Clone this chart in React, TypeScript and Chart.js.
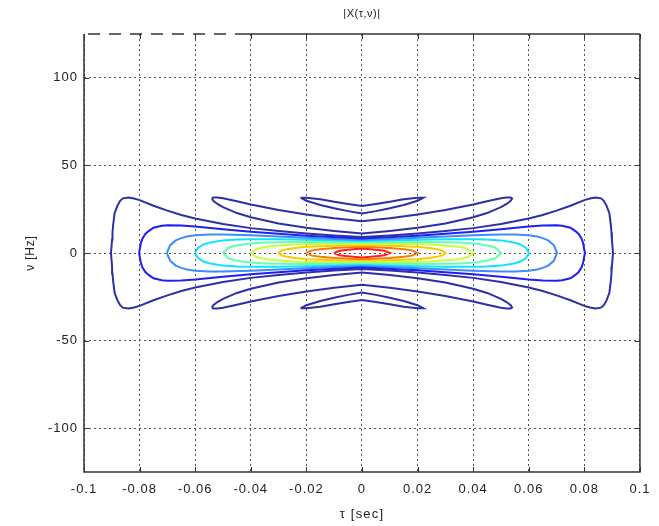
import React, { useEffect, useRef } from 'react';
import { Chart, registerables } from 'chart.js';

Chart.register(...registerables);

// ---- axes ----
const X_MIN = -0.1;
const X_MAX = 0.1;
const Y_MIN = -125;
const Y_MAX = 125;
const X_TICKS = [-0.1, -0.08, -0.06, -0.04, -0.02, 0, 0.02, 0.04, 0.06, 0.08, 0.1];
const X_TICK_LABELS = ['-0.1', '-0.08', '-0.06', '-0.04', '-0.02', '0', '0.02', '0.04', '0.06', '0.08', '0.1'];
const Y_TICKS = [-100, -50, 0, 50, 100];
const Y_TICK_LABELS = ['-100', '-50', '0', '50', '100'];
const TITLE = '|X(\u03C4,\u03BD)|';
const X_LABEL = '\u03C4 [sec]';
const Y_LABEL = '\u03BD [Hz]';
const TOP_DASH_END = -0.042;

// ---- contour levels (|X| normalised) ----
const LEVELS = [0.1, 0.2, 0.3, 0.4, 0.5, 0.6, 0.7, 0.8, 0.9];
const LEVEL_COLORS = ['#2e2ea6', '#1e1ef5', '#3c8cff', '#14e1ff', '#64ffb4', '#c8ff3c', '#ffc800', '#ff7800', '#ff1e1e'];

// Main lobe contours: upper-left quadrant [tau (s), nu (Hz)], from the nu=0 crossing to tau=0
const LOBE_L1 = [[-0.0903, 0], [-0.0899, 7.7], [-0.08975, 11.7], [-0.0895, 16.2], [-0.089, 22.7], [-0.088, 26.9], [-0.087, 29.8], [-0.086, 31.2], [-0.084, 31.7], [-0.082, 31.1], [-0.08, 30.2], [-0.075, 27.0], [-0.07, 24.2], [-0.065, 21.7], [-0.06, 19.7], [-0.05, 16.5], [-0.04, 14.2], [-0.03, 12.5], [-0.02, 11.1], [-0.01, 10.0], [0, 9.1]];
const LOBE_L2 = [[-0.0802, 0], [-0.0795, 5.9], [-0.079, 8.1], [-0.078, 10.7], [-0.077, 12.2], [-0.075, 14.4], [-0.072, 15.6], [-0.07, 15.8], [-0.065, 15.7], [-0.06, 15.1], [-0.05, 13.5], [-0.04, 12.1], [-0.02, 9.9], [0, 8.3]];
const LOBE_L3 = [[-0.0702, 0], [-0.069, 4.5], [-0.067, 7.2], [-0.065, 8.5], [-0.063, 9.4], [-0.06, 10.1], [-0.055, 10.6], [-0.05, 10.5], [-0.04, 10.1], [-0.03, 9.35], [-0.02, 8.7], [-0.01, 8.06], [0, 7.5]];
const LOBE_L4 = [[-0.0601, 0], [-0.059, 2.9], [-0.057, 4.9], [-0.055, 5.8], [-0.053, 6.45], [-0.05, 7.2], [-0.045, 7.7], [-0.04, 7.9], [-0.03, 7.8], [-0.02, 7.5], [-0.01, 7.15], [0, 6.8]];
const LOBE_L5 = [[-0.0501, 0], [-0.048, 3.0], [-0.046, 4.0], [-0.043, 4.8], [-0.04, 5.4], [-0.035, 6.0], [-0.03, 6.2], [-0.025, 6.3], [-0.02, 6.3], [-0.01, 6.2], [0, 6.0]];
const LOBE_L6 = [[-0.0401, 0], [-0.038, 2.3], [-0.036, 3.1], [-0.033, 3.8], [-0.03, 4.2], [-0.025, 4.8], [-0.02, 5.1], [-0.015, 5.2], [-0.01, 5.3], [0, 5.3]];
const LOBE_L7 = [[-0.0301, 0], [-0.029, 1.3], [-0.027, 2.2], [-0.024, 2.9], [-0.02, 3.5], [-0.015, 3.9], [-0.01, 4.2], [-0.005, 4.4], [0, 4.5]];
const LOBE_L8 = [[-0.0201, 0], [-0.018, 1.5], [-0.015, 2.2], [-0.01, 2.9], [-0.005, 3.3], [0, 3.6]];
const LOBE_L9 = [[-0.0101, 0], [-0.008, 1.3], [-0.006, 1.7], [-0.003, 2.2], [0, 2.5]];
const MAIN_LOBES = [LOBE_L1, LOBE_L2, LOBE_L3, LOBE_L4, LOBE_L5, LOBE_L6, LOBE_L7, LOBE_L8, LOBE_L9];

// Doppler sidelobes (level 0.1): left half, from tip to tau=0
const SIDE1_TAU = [-0.054, -0.0535, -0.052, -0.05, -0.045, -0.04, -0.03, -0.02, -0.01, 0];
const SIDE1_UPPER = [31.1, 31.7, 31.7, 31.2, 29.5, 27.7, 24.55, 22.0, 19.8, 18.1];
const SIDE1_LOWER = [31.1, 29.8, 28.0, 26.2, 22.8, 20.4, 16.8, 14.4, 12.6, 11.15];
const SIDE2_TAU = [-0.0221, -0.02, -0.015, -0.01, -0.005, 0];
const SIDE2_UPPER = [31.6, 31.6, 30.7, 29.2, 28.0, 26.8];
const SIDE2_LOWER = [31.6, 29.8, 27.4, 25.5, 23.9, 22.5];

type P = { x: number; y: number };

function lobeLoop(quad: number[][]): P[] {
  const pts: P[] = [];
  const n = quad.length;
  for (let i = 0; i < n; i++) pts.push({ x: quad[i][0], y: quad[i][1] });
  for (let i = n - 2; i >= 0; i--) pts.push({ x: -quad[i][0], y: quad[i][1] });
  for (let i = 1; i < n; i++) pts.push({ x: -quad[i][0], y: -quad[i][1] });
  for (let i = n - 2; i >= 0; i--) pts.push({ x: quad[i][0], y: -quad[i][1] });
  return pts;
}

function sideLoop(tau: number[], up: number[], lo: number[], sign: number): P[] {
  const pts: P[] = [];
  const n = tau.length;
  for (let i = 0; i < n; i++) pts.push({ x: tau[i], y: sign * up[i] });
  for (let i = n - 2; i >= 0; i--) pts.push({ x: -tau[i], y: sign * up[i] });
  for (let i = 1; i < n; i++) pts.push({ x: -tau[i], y: sign * lo[i] });
  for (let i = n - 2; i >= 0; i--) pts.push({ x: tau[i], y: sign * lo[i] });
  return pts;
}

const TEXT_COLOR = '#222222';
const FRAME_COLOR = '#333333';
const FONT_FAMILY = '"Liberation Sans", Arial, sans-serif';

const framePlugin = {
  id: 'matlabFrame',
  beforeDraw(chart: any) {
    chart.ctx.letterSpacing = '1px';
  },
  afterDraw(chart: any) {
    const { ctx, chartArea, scales } = chart;
    const { left, right, top, bottom } = chartArea;
    const xs = scales.x;
    const ys = scales.y;
    ctx.save();
    ctx.strokeStyle = FRAME_COLOR;
    ctx.lineWidth = 1.5;
    ctx.beginPath();
    ctx.moveTo(left, top);
    ctx.lineTo(left, bottom);
    ctx.lineTo(right, bottom);
    ctx.lineTo(right, top);
    ctx.stroke();
    const xd = xs.getPixelForValue(TOP_DASH_END);
    ctx.beginPath();
    ctx.moveTo(xd, top);
    ctx.lineTo(right, top);
    ctx.stroke();
    ctx.setLineDash([12, 9]);
    ctx.beginPath();
    ctx.moveTo(left + 4, top);
    ctx.lineTo(xd, top);
    ctx.stroke();
    ctx.setLineDash([]);
    ctx.lineWidth = 1;
    ctx.beginPath();
    for (const v of X_TICKS) {
      const px = Math.round(xs.getPixelForValue(v)) + 0.5;
      ctx.moveTo(px, bottom);
      ctx.lineTo(px, bottom - 5);
      ctx.moveTo(px, top);
      ctx.lineTo(px, top + 5);
    }
    for (const v of Y_TICKS) {
      const py = Math.round(ys.getPixelForValue(v)) + 0.5;
      ctx.moveTo(left, py);
      ctx.lineTo(left + 5, py);
      ctx.moveTo(right, py);
      ctx.lineTo(right - 5, py);
    }
    ctx.stroke();

    ctx.fillStyle = TEXT_COLOR;
    ctx.textAlign = 'center';
    ctx.textBaseline = 'middle';
    ctx.letterSpacing = '0.5px';
    ctx.font = `11px ${FONT_FAMILY}`;
    ctx.fillText(TITLE, (left + right) / 2, top - 20);
    ctx.letterSpacing = '1.2px';
    ctx.font = `13px ${FONT_FAMILY}`;
    ctx.fillText(X_LABEL, (left + right) / 2, bottom + 42);
    ctx.translate(left - 53, (top + bottom) / 2);
    ctx.rotate(-Math.PI / 2);
    ctx.letterSpacing = '0.8px';
    ctx.font = `12px ${FONT_FAMILY}`;
    ctx.fillText(Y_LABEL, 0, 0);
    ctx.restore();
    ctx.letterSpacing = '0px';
  },
};

export default function App() {
  const ref = useRef<HTMLCanvasElement>(null);
  useEffect(() => {
    document.body.style.margin = '0';
    document.body.style.overflow = 'hidden';
    const canvas = ref.current;
    if (!canvas) return;
    const datasets: any[] = [];
    const mk = (data: P[], color: string) => ({
      data,
      showLine: true,
      borderColor: color,
      backgroundColor: color,
      borderWidth: 2,
      pointRadius: 0,
      pointHoverRadius: 0,
      fill: false,
      tension: 0,
    });
    datasets.push(mk(sideLoop(SIDE1_TAU, SIDE1_UPPER, SIDE1_LOWER, 1), LEVEL_COLORS[0]));
    datasets.push(mk(sideLoop(SIDE1_TAU, SIDE1_UPPER, SIDE1_LOWER, -1), LEVEL_COLORS[0]));
    datasets.push(mk(sideLoop(SIDE2_TAU, SIDE2_UPPER, SIDE2_LOWER, 1), LEVEL_COLORS[0]));
    datasets.push(mk(sideLoop(SIDE2_TAU, SIDE2_UPPER, SIDE2_LOWER, -1), LEVEL_COLORS[0]));
    MAIN_LOBES.forEach((q, i) => datasets.push(mk(lobeLoop(q), LEVEL_COLORS[i])));

    const tickFont = { family: FONT_FAMILY, size: 13 };
    const chart = new Chart(canvas, {
      type: 'scatter',
      data: { datasets },
      options: {
        animation: false,
        responsive: false,
        devicePixelRatio: 1,
        events: [],
        layout: { padding: { left: 0, right: 19, top: 34, bottom: 0 } },
        plugins: { legend: { display: false }, tooltip: { enabled: false }, title: { display: false } },
        scales: {
          x: {
            type: 'linear',
            min: X_MIN,
            max: X_MAX,
            z: 1,
            afterFit: (s: any) => { s.height = 54; },
            afterBuildTicks: (s: any) => { s.ticks = X_TICKS.map((v) => ({ value: v })); },
            ticks: {
              callback: (_v: any, i: number) => X_TICK_LABELS[i],
              font: tickFont,
              color: TEXT_COLOR,
              padding: 10,
              maxRotation: 0,
              autoSkip: false,
            },
            grid: { color: '#555555', lineWidth: 1, drawTicks: false },
            border: { display: false, dash: [2, 3] },
          },
          y: {
            type: 'linear',
            min: Y_MIN,
            max: Y_MAX,
            z: 1,
            afterFit: (s: any) => { s.width = 84; },
            afterBuildTicks: (s: any) => { s.ticks = Y_TICKS.map((v) => ({ value: v })); },
            ticks: {
              callback: (_v: any, i: number) => Y_TICK_LABELS[i],
              font: tickFont,
              color: TEXT_COLOR,
              padding: 6,
              autoSkip: false,
            },
            grid: { color: '#555555', lineWidth: 1, drawTicks: false },
            border: { display: false, dash: [2, 3] },
          },
        },
      },
      plugins: [framePlugin],
    } as any);
    return () => chart.destroy();
  }, []);
  return <canvas ref={ref} width={659} height={526} style={{ display: 'block' }} />;
}
